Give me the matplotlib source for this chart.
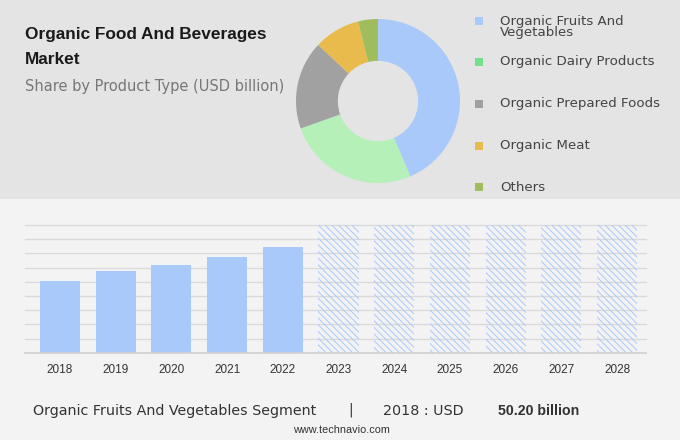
import numpy as np
import matplotlib
matplotlib.use("Agg")
import matplotlib.pyplot as plt
from matplotlib.patches import Rectangle

# ---------------------------------------------------------
# Data
# ---------------------------------------------------------
segments = ["Organic Fruits And\nVegetables", "Organic Dairy Products",
            "Organic Prepared Foods", "Organic Meat", "Others"]
shares = [43.5, 26.0, 17.4, 9.1, 3.9]
pie_colors = ["#a9c9fb", "#b5f0b9", "#a1a1a1", "#e9bb4c", "#9fbd5c"]
legend_colors = ["#a9c9fb", "#72e08e", "#a1a1a1", "#e9bb4c", "#9fbd5c"]

years = ["2018", "2019", "2020", "2021", "2022"]
values = [50.2, 57.7, 61.5, 67.5, 74.6]
forecast_years = ["2023", "2024", "2025", "2026", "2027", "2028"]

W, H = 680, 440
BAR_BLUE = "#a9c9fb"

plt.rcParams["hatch.linewidth"] = 0.7

fig = plt.figure(figsize=(W / 100, H / 100), dpi=100, facecolor="#f3f3f4")


def fx(px):
    return px / W


def fy(py):
    return 1 - py / H


# top grey panel
fig.add_artist(Rectangle((0, fy(199)), 1, 199 / H, transform=fig.transFigure,
                         facecolor="#e4e4e4", edgecolor="none", zorder=0))

# title block
fig.text(fx(25), fy(35), "Organic Food And Beverages", fontsize=12.4, fontweight="bold",
         family="Liberation Sans", color="#1a1a1a", va="center")
fig.text(fx(25), fy(60), "Market", fontsize=12.4, fontweight="bold",
         family="Liberation Sans", color="#1a1a1a", va="center")
fig.text(fx(25), fy(86), "Share by Product Type (USD billion)", fontsize=10.5,
         color="#777777", va="center")

# ---------------------------------------------------------
# Donut
# ---------------------------------------------------------
cx, cy, r = 378, 101, 82
ax_pie = fig.add_axes([fx(cx - r), fy(cy + r), 2 * r / W, 2 * r / H])
ax_pie.pie(shares, colors=pie_colors, startangle=90, counterclock=False,
           radius=1, wedgeprops=dict(width=0.51, edgecolor="none"))
ax_pie.set_xlim(-1, 1)
ax_pie.set_ylim(-1, 1)
ax_pie.set_aspect("equal")
ax_pie.axis("off")

# legend
legend_y = [21, 62, 104, 146, 187]
for lab, col, ly in zip(segments, legend_colors, legend_y):
    fig.add_artist(Rectangle((fx(475), fy(ly + 4)), 8 / W, 8 / H, transform=fig.transFigure,
                             facecolor=col, edgecolor="none"))
    if "\n" in lab:
        fig.text(fx(500), fy(ly + 6), lab, fontsize=9.6, color="#444444", va="center",
                 linespacing=0.8)
    else:
        fig.text(fx(500), fy(ly), lab, fontsize=9.6, color="#444444", va="center")

# ---------------------------------------------------------
# Bars
# ---------------------------------------------------------
left, right, top, base = 25, 646, 225, 352.7
ax = fig.add_axes([fx(left), fy(base), (right - left) / W, (base - top) / H])
ax.set_facecolor("none")

all_years = years + forecast_years
x = np.arange(len(all_years))
ymax = 90
for g in range(10, ymax + 1, 10):
    ax.axhline(g, color="#dadada", lw=1, zorder=0, clip_on=False)
ax.axhline(0, color="#cfcfcf", lw=1.2, zorder=3, clip_on=False)

ax.bar(x[:len(years)], values, width=0.72, color=BAR_BLUE, zorder=2)
ax.bar(x[len(years):], [ymax] * len(forecast_years), width=0.72, facecolor="none",
       edgecolor=BAR_BLUE, linewidth=0, hatch="\\" * 5, zorder=2)

ax.set_xlim(-0.628, 10.52)
ax.set_ylim(0, ymax)
ax.set_xticks(x)
ax.set_xticklabels(all_years, family="Liberation Sans", fontsize=8.5, color="#333333")
ax.set_yticks([])
ax.tick_params(axis="x", length=0, pad=8)
for s in ax.spines.values():
    s.set_visible(False)

# ---------------------------------------------------------
# Footer
# ---------------------------------------------------------
fig.text(fx(33), fy(411), "Organic Fruits And Vegetables Segment", fontsize=10.3,
         color="#333333", va="center")
fig.text(fx(351), fy(410), "|", fontsize=10, color="#333333", va="center", ha="center")
fig.text(fx(383), fy(411), "2018 : USD", fontsize=10.3, color="#333333", va="center")
fig.text(fx(498), fy(411), "50.20 billion", fontsize=10.2, fontweight="bold",
         family="Liberation Sans", color="#333333", va="center")
fig.text(fx(341), fy(430), "www.technavio.com", fontsize=7.8, family="Liberation Sans",
         color="#333333", va="center", ha="center")

fig.savefig("out.png", dpi=100, facecolor=fig.get_facecolor())
